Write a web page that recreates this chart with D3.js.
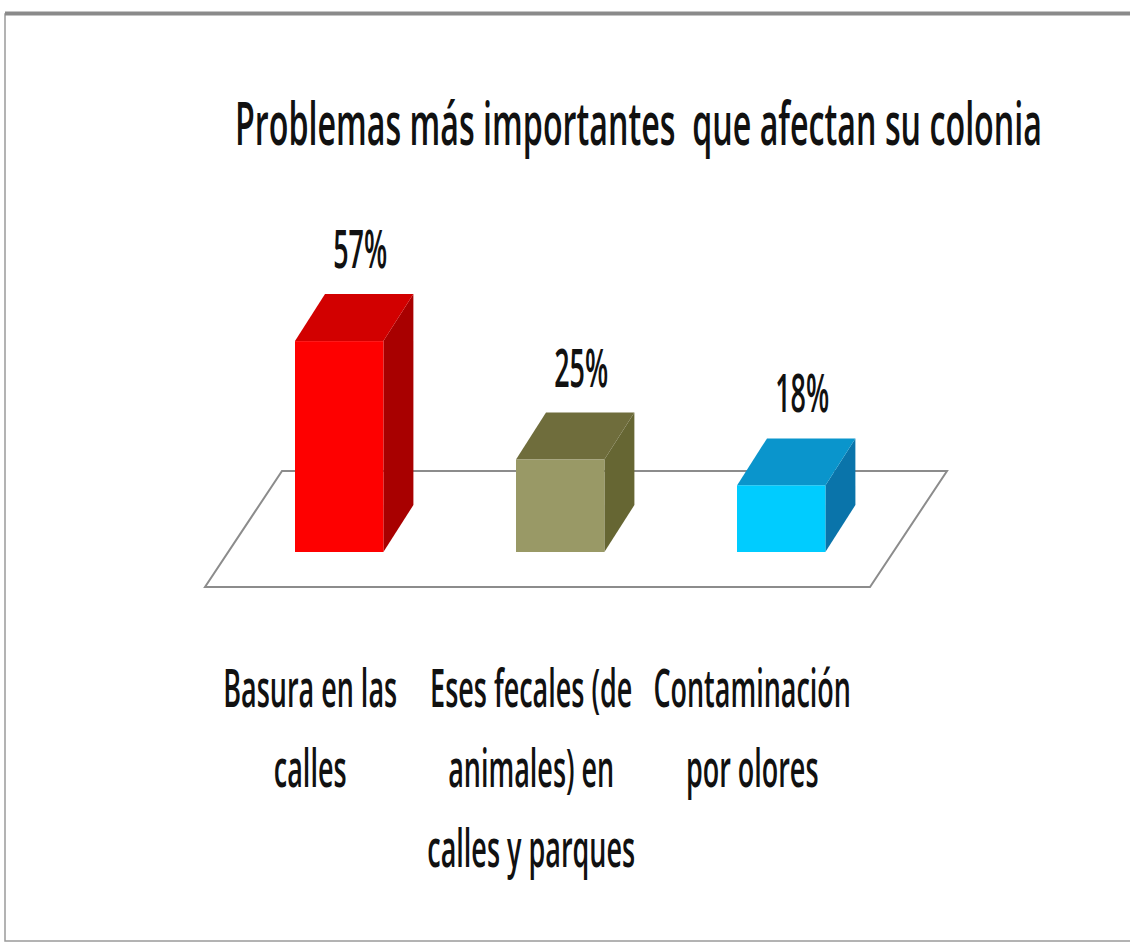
<!DOCTYPE html>
<html>
<head>
<meta charset="utf-8">
<script src="https://cdn.jsdelivr.net/npm/d3@7/dist/d3.min.js"></script>
<style>
  html, body { margin: 0; padding: 0; background: #fff; }
  svg { display: block; }
  text { font-family: "Open Sans", "Noto Sans", sans-serif; font-weight: 600; fill: #111; white-space: pre; }
</style>
</head>
<body>
<svg id="chart" width="1130" height="944"></svg>
<script>
const title = "Problemas más importantes  que afectan su colonia";
const categories = ["Basura en las calles", "Eses fecales (de animales) en calles y parques", "Contaminación por olores"];
const categoryLines = [["Basura en las", "calles"], ["Eses fecales (de", "animales) en", "calles y parques"], ["Contaminación", "por olores"]];
const values = [57, 25, 18];
const valueLabels = ["57%", "25%", "18%"];
const frontColors = ["#fe0000", "#999966", "#00ccff"];
const topColors = ["#d20000", "#6f6d3c", "#0a95cc"];
const sideColors = ["#a80000", "#666633", "#0a74aa"];

const W = 1130, H = 944;
const svg = d3.select("#chart");

// frame
svg.append("rect").attr("x", 5).attr("y", 14).attr("width", W + 10).attr("height", 927)
  .attr("fill", "#fff").attr("stroke", "#9a9a9a").attr("stroke-width", 1.5);
svg.append("line").attr("x1", 5).attr("x2", W).attr("y1", 13.5).attr("y2", 13.5)
  .attr("stroke", "#8a8a8a").attr("stroke-width", 4);

const x = d3.scaleBand().domain(categories).range([228.7, 891.7]).paddingInner(0.6).paddingOuter(0.3);
const y = d3.scaleLinear().domain([0, 100]).range([552, 182]);

// oblique depth
const bdx = 30, bdy = -47;        // bar depth
const fdx = 77, fdy = -116;       // floor depth
const floorFront = 587;

// floor
const fl = 205, fr = 870;
svg.append("path")
  .attr("d", `M${fl},${floorFront} L${fr},${floorFront} L${fr + fdx},${floorFront + fdy} L${fl + fdx},${floorFront + fdy} Z`)
  .attr("fill", "#fff").attr("stroke", "#8c8c8c").attr("stroke-width", 2);

const bw = x.bandwidth();
const bars = svg.append("g").selectAll("g").data(categories).join("g");
bars.each(function (c, i) {
  const g = d3.select(this);
  const x0 = x(c), x1 = x0 + bw, yt = y(values[i]), yb = y(0);
  g.append("path").attr("d", `M${x1},${yb} L${x1 + bdx},${yb + bdy} L${x1 + bdx},${yt + bdy} L${x1},${yt} Z`)
    .attr("fill", sideColors[i]);
  g.append("path").attr("d", `M${x0},${yt} L${x0 + bdx},${yt + bdy} L${x1 + bdx},${yt + bdy} L${x1},${yt} Z`)
    .attr("fill", topColors[i]);
  g.append("rect").attr("x", x0).attr("y", yt).attr("width", bw).attr("height", yb - yt)
    .attr("fill", frontColors[i]);
});

function addText(str, cx, by, size, sx) {
  return svg.append("text")
    .attr("transform", `translate(${cx},${by}) scale(${sx},1)`)
    .attr("text-anchor", "middle")
    .attr("font-size", size)
    .text(str);
}
function measure(str, size) {
  const t = svg.append("text").attr("font-size", size).text(str);
  const w = t.node().getComputedTextLength();
  t.remove();
  return w;
}

// condensed-font factors fitted to the reference glyph widths
const sxTitle = 807 / measure(title, 60);
const sxVal = 54 / measure("57%", 52);
const sxCat = 174 / measure("Basura en las", 52);

addText(title, 638.5, 145, 60, sxTitle);

categories.forEach((c, i) => {
  addText(valueLabels[i], x(c) + bw / 2 + 21, y(values[i]) + bdy - 26, 52, sxVal);
});

categories.forEach((c, i) => {
  categoryLines[i].forEach((ln, j) => {
    addText(ln, x(c) + bw / 2 - 29, 707 + j * 80, 52, sxCat);
  });
});
</script>
</body>
</html>
